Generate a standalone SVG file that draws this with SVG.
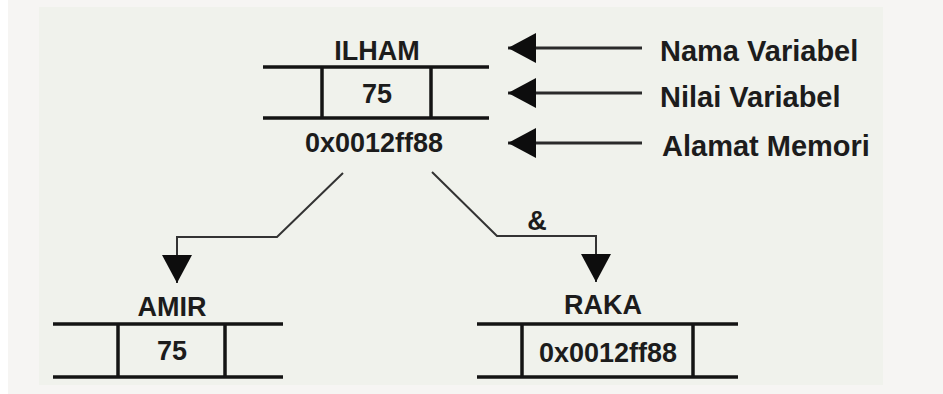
<svg xmlns="http://www.w3.org/2000/svg" width="943" height="394" viewBox="0 0 943 394">
<defs>
<style>
.t{font-family:"Liberation Sans",Arial,sans-serif;font-weight:bold;font-size:27px;fill:#1c1c1c;text-anchor:middle}
.lab{font-family:"Liberation Sans",Arial,sans-serif;font-weight:bold;font-size:29px;fill:#1c1c1c}
.box{stroke:#141414;stroke-width:3.5;fill:none}
.ptr{stroke:#2a2a2a;stroke-width:3;fill:none}
.con{stroke:#333;stroke-width:2;fill:none}
</style>
<marker id="head" markerUnits="userSpaceOnUse" markerWidth="28" markerHeight="30" viewBox="0 0 28 30" refX="28" refY="15" orient="auto">
<path d="M0,0 L28,15 L0,30 Z" fill="#0d0d0d"/>
</marker>
</defs>
<rect x="0" y="0" width="943" height="394" fill="#f6f5f3"/>
<rect x="0" y="0" width="8" height="394" fill="#ffffff"/>
<rect x="39" y="7" width="844" height="378" fill="#f0f2ec"/>

<g id="ilham">
<text class="t" x="377" y="60">ILHAM</text>
<line class="box" x1="263" y1="67" x2="489" y2="67"/>
<line class="box" x1="263" y1="118" x2="489" y2="118"/>
<line class="box" x1="322" y1="67" x2="322" y2="118"/>
<line class="box" x1="431" y1="67" x2="431" y2="118"/>
<text class="t" x="377" y="103">75</text>
<text class="t" x="374" y="152">0x0012ff88</text>
</g>

<g id="amir">
<text class="t" x="172" y="316">AMIR</text>
<line class="box" x1="53" y1="324" x2="283" y2="324"/>
<line class="box" x1="53" y1="377" x2="283" y2="377"/>
<line class="box" x1="118" y1="324" x2="118" y2="377"/>
<line class="box" x1="225" y1="324" x2="225" y2="377"/>
<text class="t" x="172" y="360">75</text>
</g>

<g id="raka">
<text class="t" x="603" y="314">RAKA</text>
<line class="box" x1="477" y1="324" x2="738" y2="324"/>
<line class="box" x1="477" y1="377" x2="738" y2="377"/>
<line class="box" x1="522" y1="324" x2="522" y2="377"/>
<line class="box" x1="693" y1="324" x2="693" y2="377"/>
<text class="t" x="608" y="362">0x0012ff88</text>
</g>

<g id="legend">
<text class="lab" x="660" y="61">Nama Variabel</text>
<text class="lab" x="660" y="107">Nilai Variabel</text>
<text class="lab" x="662" y="156">Alamat Memori</text>
</g>

<g id="connectors">
<line class="ptr" x1="642" y1="48" x2="508" y2="48" marker-end="url(#head)"/>
<line class="ptr" x1="642" y1="93" x2="508" y2="93" marker-end="url(#head)"/>
<line class="ptr" x1="642" y1="143" x2="508" y2="143" marker-end="url(#head)"/>
<polyline class="con" points="343,173 277,237 177,237 177,283" marker-end="url(#head)"/>
<polyline class="con" points="432,172 497,236 596,236 596,282" marker-end="url(#head)"/>
<text class="t" x="537" y="230">&amp;</text>
</g>
</svg>
